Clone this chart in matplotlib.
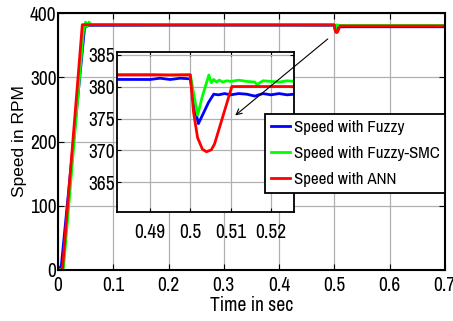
import numpy as np
import matplotlib
matplotlib.use('Agg')
import matplotlib.pyplot as plt

plt.rcParams['font.family'] = ['Archivo Narrow', 'DejaVu Sans']

# speed responses (time in sec, speed in RPM)
t_fuzzy = [0, 0.002, 0.004, 0.006, 0.048, 0.052, 0.2, 0.4, 0.490, 0.4925, 0.495, 0.4975, 0.5,
           0.5010, 0.5020, 0.5030, 0.5045, 0.5058, 0.5070, 0.5085, 0.5100, 0.5120, 0.5140,
           0.5160, 0.5180, 0.5200, 0.5220, 0.5240, 0.5257, 0.6, 0.7]
s_fuzzy = [0, 3, 4, 6, 376, 381, 381.2, 381.2, 381.1, 381.3, 381.1, 381.3, 381.2,
           377.0, 374.2, 375.5, 377.5, 378.8, 378.7, 378.9, 378.7, 378.9, 378.8,
           378.5, 378.9, 378.7, 378.9, 378.7, 378.8, 378.8, 378.8]

t_smc = [0, 0.005, 0.010, 0.046, 0.050, 0.053, 0.056, 0.060, 0.2, 0.4, 0.49, 0.495, 0.5,
         0.5008, 0.5018, 0.5030, 0.5046, 0.5052, 0.5058, 0.5065, 0.5072, 0.5080, 0.5090,
         0.5100, 0.5120, 0.5140, 0.5160, 0.5165, 0.5180, 0.5200, 0.5220, 0.5240, 0.5257, 0.6, 0.7]
s_smc = [0, 1, 3, 372, 386, 379, 386, 382, 381.8, 381.8, 381.9, 381.8, 381.9,
         379.0, 375.5, 378.5, 381.8, 380.6, 381.1, 380.7, 381.0, 380.7, 380.9,
         380.8, 381.0, 380.8, 380.7, 380.3, 380.9, 380.8, 380.7, 380.9, 380.8, 380.8, 380.8]

t_ann = [0, 0.008, 0.044, 0.2, 0.4, 0.5, 0.5008, 0.5018, 0.5030, 0.5040, 0.5052,
         0.5060, 0.5103, 0.5257, 0.6, 0.7]
s_ann = [0, 0, 382, 381.8, 381.8, 381.8, 376.0, 372.0, 370.2, 369.8, 370.1,
         371.0, 380.0, 380.0, 380.0, 380.0]

xticks_main = [0, 0.1, 0.2, 0.3, 0.4, 0.5, 0.6, 0.7]
yticks_main = [0, 100, 200, 300, 400]
xticks_in = [0.49, 0.5, 0.51, 0.52]
yticks_in = [365, 370, 375, 380, 385]

fig = plt.figure(figsize=(4.53, 3.21), dpi=100)
ax = fig.add_axes([0.128, 0.159, 0.854, 0.80])

lw = 2.0
ax.plot(t_fuzzy, s_fuzzy, color='#0000ff', lw=lw)
ax.plot(t_smc, s_smc, color='#00ff00', lw=lw)
ax.plot(t_ann, s_ann, color='#ff0000', lw=lw)
ax.set_xlim(0, 0.7)
ax.set_ylim(0, 400)
ax.set_xticks(xticks_main)
ax.set_xticklabels(['0', '0.1', '0.2', '0.3', '0.4', '0.5', '0.6', '0.7'])
ax.set_yticks(yticks_main)
ax.grid(True, color='#b0b0b0', lw=0.9)
ax.tick_params(direction='in', top=True, right=True, labelsize=14, pad=1, length=4)
ax.tick_params(axis='x', pad=4)
for sp in ax.spines.values():
    sp.set_linewidth(1.5)
ax.set_xlabel('Time in sec', fontsize=14, labelpad=1)
ax.set_ylabel('Speed in RPM', fontsize=12.5, family=['Liberation Sans', 'DejaVu Sans'], labelpad=2)

# zoomed inset around the load step
axin = fig.add_axes([0.258, 0.34, 0.391, 0.498])
axin.plot(t_fuzzy, s_fuzzy, color='#0000ff', lw=lw)
axin.plot(t_smc, s_smc, color='#00ff00', lw=lw)
axin.plot(t_ann, s_ann, color='#ff0000', lw=lw)
axin.set_xlim(0.4818, 0.5257)
axin.set_ylim(360.4, 385.4)
axin.set_xticks(xticks_in)
axin.set_xticklabels(['0.49', '0.5', '0.51', '0.52'])
axin.set_yticks(yticks_in)
axin.grid(True, color='#b0b0b0', lw=0.9)
axin.tick_params(direction='in', top=True, right=True, labelsize=14, pad=1, length=3)
axin.tick_params(axis='x', pad=8)
for sp in axin.spines.values():
    sp.set_linewidth(1.3)

axin.annotate('', xy=(0.5106, 375.2), xycoords='data',
              xytext=(0.492, 362.6), textcoords=ax.transData,
              arrowprops=dict(arrowstyle='->', color='black', lw=0.8),
              annotation_clip=False)

leg = axin.legend(['Speed with Fuzzy', 'Speed with Fuzzy-SMC', 'Speed with ANN'],
                  loc='upper left', bbox_to_anchor=(0.535, 0.607), bbox_transform=ax.transAxes,
                  fontsize=12.2, fancybox=False, edgecolor='black', framealpha=1,
                  handlelength=1.1, handletextpad=0.25, borderpad=0.35, labelspacing=0.65,
                  borderaxespad=0)
leg.get_frame().set_linewidth(1.3)

fig.savefig('out.png', dpi=100)
